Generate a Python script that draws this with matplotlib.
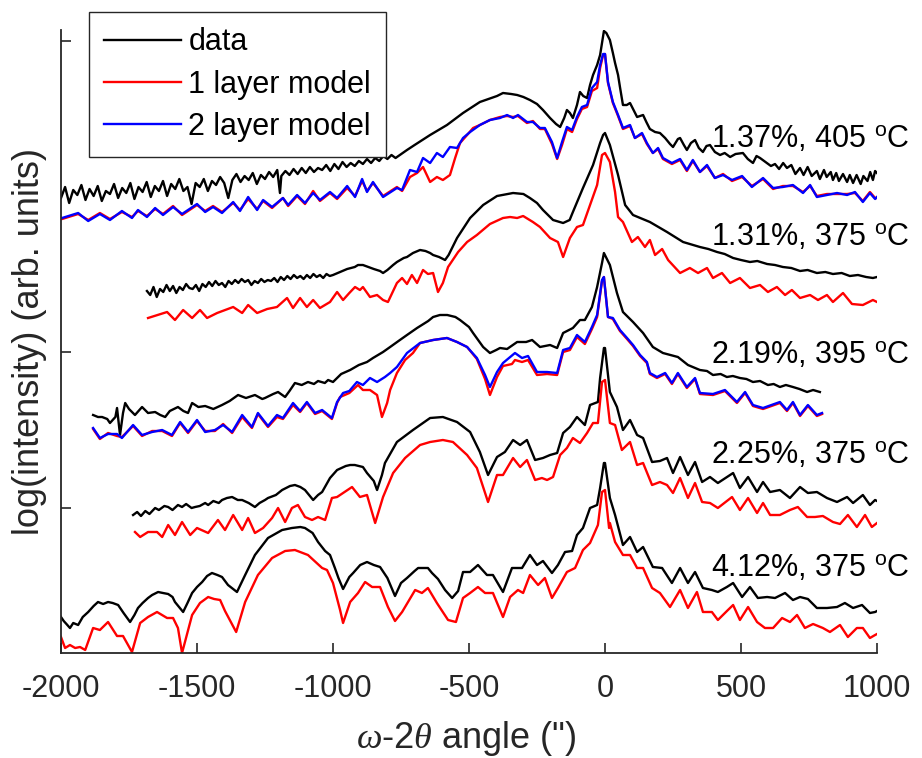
import numpy as np
import matplotlib
matplotlib.use("Agg")
import matplotlib.pyplot as plt

plt.rcParams['font.family'] = ['Liberation Sans', 'DejaVu Sans']
plt.rcParams['mathtext.fontset'] = 'custom'
plt.rcParams['mathtext.rm'] = 'Liberation Sans'
plt.rcParams['mathtext.it'] = 'Liberation Serif:italic'
plt.rcParams['axes.unicode_minus'] = False

# (angle in arcsec, log intensity in arb. units), offset per sample
s137_data = [(-2000, 455), (-1985, 466), (-1970, 450), (-1955, 463), (-1940, 458), (-1925, 468), (-1910, 453),
             (-1895, 464), (-1880, 457), (-1865, 467), (-1850, 452), (-1835, 462), (-1820, 459), (-1805, 469),
             (-1790, 455), (-1775, 465), (-1760, 460), (-1745, 470), (-1730, 454), (-1715, 466), (-1700, 461),
             (-1685, 471), (-1670, 456), (-1655, 467), (-1640, 462), (-1625, 472), (-1610, 457), (-1595, 469),
             (-1580, 464), (-1565, 474), (-1550, 462), (-1535, 466), (-1520, 449), (-1505, 470), (-1490, 466),
             (-1475, 474), (-1460, 462), (-1445, 472), (-1430, 468), (-1415, 476), (-1400, 470), (-1385, 455),
             (-1370, 473), (-1355, 479), (-1340, 471), (-1325, 477), (-1310, 473), (-1295, 480), (-1280, 469),
             (-1265, 478), (-1250, 474), (-1235, 481), (-1220, 476), (-1205, 483), (-1195, 460), (-1190, 477),
             (-1175, 482), (-1160, 478), (-1145, 484), (-1130, 479), (-1115, 485), (-1100, 480), (-1085, 486),
             (-1070, 481), (-1055, 485), (-1040, 483), (-1025, 488), (-1010, 482), (-995, 489), (-980, 484),
             (-965, 491), (-950, 486), (-935, 490), (-920, 487), (-905, 492), (-890, 489), (-875, 494),
             (-860, 490), (-845, 495), (-830, 492), (-815, 497), (-800, 494), (-785, 498), (-770, 495),
             (-728, 503), (-700, 508), (-643, 518), (-581, 528), (-522, 540), (-460, 551), (-397, 557),
             (-375, 560), (-345, 559), (-323, 558), (-300, 556), (-276, 553), (-250, 549), (-228, 543),
             (-202, 535), (-180, 529), (-165, 526), (-150, 535), (-140, 543), (-129, 540), (-118, 535),
             (-103, 548), (-92, 561), (-80, 557), (-66, 555), (-55, 568), (-44, 578), (-29, 588), (-18, 598),
             (-11, 610), (-4, 622), (5, 620), (18, 613), (29, 600), (37, 590), (48, 578), (55, 566), (66, 548),
             (80, 548), (92, 550), (105, 543), (118, 536), (129, 537), (140, 538), (152, 531), (165, 524),
             (184, 521), (202, 520), (221, 515), (239, 509), (250, 506), (268, 514), (276, 515), (290, 508),
             (301, 503), (316, 510), (331, 513), (345, 505), (360, 501), (373, 507), (386, 508), (404, 501),
             (423, 498), (440, 500), (460, 496), (480, 499), (507, 500), (525, 494), (544, 490), (557, 497),
             (570, 495), (590, 491), (610, 487), (625, 489), (640, 484), (655, 490), (669, 485), (685, 488),
             (700, 479), (717, 485), (730, 478), (745, 486), (760, 477), (779, 482), (790, 474), (805, 483),
             (815, 476), (830, 481), (838, 473), (850, 480), (860, 472), (875, 479), (890, 471), (900, 478),
             (912, 470), (925, 478), (940, 469), (950, 477), (965, 472), (975, 481), (985, 473), (993, 482),
             (1000, 480)]

s137_one = [(-2000, 434), (-1996, 434), (-1937, 439), (-1900, 433), (-1857, 440), (-1820, 434), (-1776, 441),
            (-1739, 436), (-1717, 442), (-1684, 437), (-1654, 444), (-1625, 439), (-1588, 447), (-1555, 438),
            (-1500, 448), (-1470, 442), (-1441, 447), (-1408, 441), (-1367, 450), (-1342, 443), (-1312, 454),
            (-1279, 444), (-1257, 452), (-1224, 445), (-1184, 455), (-1165, 447), (-1132, 457), (-1103, 449),
            (-1073, 462), (-1048, 452), (-1011, 460), (-985, 454), (-948, 465), (-919, 457), (-893, 472),
            (-875, 462), (-853, 470), (-816, 457), (-765, 466), (-746, 462), (-717, 476), (-691, 480),
            (-669, 486), (-643, 471), (-618, 476), (-596, 473), (-570, 478), (-551, 495), (-533, 510),
            (-507, 518), (-485, 525), (-460, 528), (-423, 533), (-386, 536), (-360, 537), (-338, 536),
            (-320, 537), (-287, 530), (-265, 532), (-239, 524), (-221, 524), (-195, 509), (-176, 494),
            (-158, 508), (-140, 524), (-121, 521), (-103, 534), (-85, 544), (-66, 546), (-48, 562), (-29, 565),
            (-18, 585), (-7, 598), (0, 599), (11, 570), (29, 550), (48, 537), (66, 524), (92, 527), (110, 515),
            (136, 519), (154, 509), (176, 500), (195, 504), (213, 494), (246, 489), (276, 493), (301, 482),
            (323, 492), (349, 481), (375, 487), (404, 475), (434, 479), (467, 472), (504, 476), (540, 467),
            (581, 474), (618, 464), (654, 467), (691, 467), (728, 461), (754, 467), (779, 457), (816, 459),
            (853, 459), (890, 459), (919, 460), (948, 452), (974, 461), (993, 455), (1000, 455)]

s137_two = [(-2000, 435), (-1996, 435), (-1937, 440), (-1900, 432), (-1857, 439), (-1820, 433), (-1776, 442),
            (-1739, 435), (-1717, 443), (-1684, 436), (-1654, 445), (-1625, 438), (-1588, 446), (-1555, 439),
            (-1500, 449), (-1470, 441), (-1441, 446), (-1408, 440), (-1367, 451), (-1342, 442), (-1312, 456),
            (-1279, 443), (-1257, 453), (-1224, 446), (-1184, 455), (-1165, 448), (-1132, 458), (-1103, 450),
            (-1073, 460), (-1048, 453), (-1011, 461), (-985, 455), (-948, 467), (-919, 456), (-893, 474),
            (-875, 461), (-853, 471), (-816, 456), (-765, 465), (-746, 463), (-717, 483), (-691, 481),
            (-669, 495), (-643, 490), (-618, 500), (-596, 496), (-570, 506), (-544, 505), (-522, 515),
            (-496, 521), (-460, 528), (-423, 533), (-386, 535), (-360, 538), (-338, 535), (-320, 538),
            (-287, 531), (-265, 531), (-239, 525), (-221, 525), (-195, 511), (-176, 495), (-158, 511),
            (-140, 526), (-121, 523), (-103, 536), (-85, 546), (-66, 548), (-48, 565), (-29, 571), (-18, 588),
            (-7, 599), (0, 599), (11, 571), (29, 551), (48, 538), (66, 525), (92, 528), (110, 515), (136, 520),
            (154, 510), (176, 500), (195, 505), (213, 495), (246, 490), (276, 494), (301, 483), (323, 493),
            (349, 481), (375, 488), (404, 475), (434, 478), (467, 473), (504, 477), (540, 466), (581, 475),
            (618, 465), (654, 466), (691, 468), (728, 460), (754, 468), (779, 456), (816, 458), (853, 460),
            (890, 458), (919, 461), (948, 451), (974, 460), (993, 454), (1000, 456)]

s131_data = [(-1684, 362), (-1672, 358), (-1660, 366), (-1648, 356), (-1636, 364), (-1624, 361), (-1612, 368),
             (-1600, 362), (-1588, 367), (-1576, 360), (-1564, 366), (-1552, 363), (-1540, 369), (-1528, 365),
             (-1516, 364), (-1504, 368), (-1492, 362), (-1480, 369), (-1468, 366), (-1456, 371), (-1444, 367),
             (-1432, 372), (-1420, 368), (-1408, 370), (-1396, 366), (-1384, 372), (-1372, 369), (-1360, 373),
             (-1348, 370), (-1336, 374), (-1324, 371), (-1312, 373), (-1300, 368), (-1288, 372), (-1276, 370),
             (-1264, 374), (-1252, 371), (-1240, 373), (-1228, 372), (-1216, 375), (-1204, 371), (-1192, 376),
             (-1180, 373), (-1168, 377), (-1156, 374), (-1144, 378), (-1132, 375), (-1120, 377), (-1108, 374),
             (-1096, 378), (-1084, 375), (-1072, 379), (-1060, 376), (-1048, 378), (-1036, 375), (-1024, 379),
             (-1012, 377), (-1000, 378), (-974, 381), (-948, 384), (-920, 386), (-908, 388), (-890, 388),
             (-870, 386), (-850, 384), (-827, 382), (-816, 380), (-800, 383), (-779, 388), (-765, 391),
             (-740, 395), (-728, 396), (-706, 400), (-680, 403), (-660, 402), (-643, 400), (-632, 398),
             (-610, 396), (-588, 393), (-575, 398), (-544, 415), (-496, 435), (-448, 448), (-397, 457),
             (-338, 460), (-300, 459), (-276, 455), (-250, 450), (-228, 443), (-191, 433), (-154, 430),
             (-130, 433), (-118, 441), (-81, 465), (-44, 488), (-18, 510), (-7, 518), (0, 520), (18, 508),
             (48, 478), (74, 448), (103, 438), (165, 431), (228, 421), (287, 411), (349, 406), (380, 404),
             (412, 401), (440, 399), (471, 395), (500, 393), (533, 391), (560, 392), (596, 389), (625, 388),
             (654, 386), (685, 385), (717, 382), (745, 383), (779, 380), (810, 381), (838, 379), (870, 380),
             (900, 377), (930, 378), (960, 376), (985, 375), (1000, 376)]

s131_one = [(-1680, 335), (-1610, 341), (-1581, 333), (-1551, 343), (-1518, 335), (-1489, 343), (-1463, 335),
            (-1426, 340), (-1367, 346), (-1334, 340), (-1312, 348), (-1279, 340), (-1242, 344), (-1206, 346),
            (-1169, 355), (-1147, 345), (-1121, 355), (-1096, 346), (-1073, 353), (-1048, 345), (-1011, 351),
            (-985, 361), (-963, 353), (-940, 360), (-919, 366), (-901, 363), (-890, 366), (-864, 356),
            (-838, 358), (-816, 353), (-798, 351), (-765, 370), (-746, 375), (-728, 369), (-710, 378),
            (-691, 370), (-669, 383), (-651, 379), (-632, 380), (-614, 361), (-596, 370), (-577, 386),
            (-540, 401), (-507, 411), (-471, 418), (-423, 429), (-375, 435), (-349, 436), (-323, 435),
            (-301, 437), (-265, 431), (-239, 426), (-202, 415), (-173, 411), (-154, 396), (-129, 415),
            (-103, 426), (-81, 428), (-55, 448), (-29, 468), (-11, 498), (0, 500), (18, 491), (37, 461),
            (48, 436), (66, 431), (99, 411), (121, 416), (147, 406), (165, 413), (184, 398), (210, 404),
            (232, 393), (276, 380), (312, 385), (342, 380), (375, 385), (397, 375), (430, 380), (460, 370),
            (496, 375), (533, 365), (570, 368), (599, 361), (632, 366), (662, 358), (687, 363), (717, 355),
            (754, 358), (783, 353), (816, 358), (838, 351), (875, 360), (908, 349), (948, 348), (985, 353),
            (1000, 351)]

s219_data = [(-1882, 238), (-1864, 236), (-1849, 236), (-1830, 234), (-1820, 230), (-1800, 236), (-1794, 245),
             (-1783, 218), (-1772, 240), (-1764, 250), (-1750, 244), (-1728, 238), (-1715, 242), (-1702, 246),
             (-1680, 240), (-1654, 241), (-1635, 238), (-1617, 236), (-1600, 242), (-1570, 246), (-1550, 242),
             (-1533, 240), (-1518, 250), (-1495, 246), (-1470, 247), (-1440, 244), (-1408, 248), (-1380, 252),
             (-1349, 258), (-1320, 255), (-1287, 258), (-1260, 254), (-1250, 255), (-1220, 259), (-1202, 261),
             (-1176, 256), (-1160, 262), (-1140, 270), (-1115, 268), (-1092, 271), (-1070, 269), (-1055, 272),
             (-1030, 270), (-1018, 273), (-1000, 271), (-970, 279), (-937, 283), (-905, 288), (-875, 291),
             (-853, 295), (-816, 301), (-790, 306), (-754, 313), (-728, 318), (-691, 325), (-650, 332),
             (-632, 336), (-607, 338), (-580, 338), (-550, 336), (-533, 333), (-500, 326), (-485, 320),
             (-448, 306), (-423, 300), (-400, 303), (-386, 305), (-360, 304), (-323, 311), (-290, 311),
             (-268, 313), (-239, 306), (-202, 308), (-176, 305), (-154, 320), (-118, 325), (-92, 333),
             (-74, 333), (-48, 346), (-29, 366), (-11, 390), (-4, 400), (18, 388), (44, 360), (66, 341),
             (103, 331), (140, 320), (176, 306), (213, 300), (268, 296), (305, 288), (349, 283), (375, 282),
             (397, 278), (425, 279), (448, 276), (470, 277), (496, 275), (520, 274), (544, 271), (570, 272),
             (599, 268), (620, 269), (643, 266), (665, 268), (691, 266), (715, 264), (743, 261), (765, 263),
             (790, 261)]

s219_one = [(-1882, 224), (-1857, 214), (-1827, 220), (-1794, 217), (-1776, 216), (-1735, 227), (-1702, 217),
            (-1665, 222), (-1628, 222), (-1592, 217), (-1562, 230), (-1533, 220), (-1500, 232), (-1470, 222),
            (-1434, 222), (-1404, 229), (-1371, 220), (-1334, 236), (-1298, 225), (-1276, 239), (-1239, 226),
            (-1206, 236), (-1184, 234), (-1147, 248), (-1121, 241), (-1096, 250), (-1066, 239), (-1040, 242),
            (-1004, 234), (-985, 250), (-974, 256), (-940, 260), (-908, 268), (-890, 263), (-864, 263),
            (-838, 258), (-820, 236), (-801, 250), (-790, 263), (-765, 280), (-735, 293), (-706, 300),
            (-680, 310), (-632, 313), (-581, 315), (-544, 311), (-507, 306), (-471, 294), (-441, 274),
            (-423, 258), (-397, 276), (-375, 287), (-342, 289), (-331, 293), (-305, 291), (-283, 293),
            (-250, 278), (-213, 279), (-176, 278), (-154, 301), (-129, 303), (-103, 316), (-74, 309),
            (-48, 324), (-29, 336), (-11, 372), (-4, 376), (11, 336), (29, 334), (55, 322), (81, 314),
            (103, 307), (129, 297), (154, 290), (165, 279), (191, 275), (221, 279), (246, 269), (268, 279),
            (301, 265), (331, 274), (349, 259), (397, 258), (441, 262), (485, 250), (515, 260), (544, 247),
            (581, 244), (643, 250), (669, 242), (691, 250), (717, 237), (746, 247), (779, 237), (798, 239)]

s219_two = [(-1882, 225), (-1857, 215), (-1827, 219), (-1794, 219), (-1776, 215), (-1735, 228), (-1702, 218),
            (-1665, 221), (-1628, 223), (-1592, 218), (-1562, 231), (-1533, 221), (-1500, 233), (-1470, 221),
            (-1434, 223), (-1404, 228), (-1371, 221), (-1334, 238), (-1298, 226), (-1276, 240), (-1239, 227),
            (-1206, 238), (-1184, 235), (-1147, 250), (-1121, 242), (-1096, 251), (-1066, 240), (-1040, 243),
            (-1004, 235), (-985, 251), (-963, 260), (-940, 262), (-912, 271), (-890, 268), (-864, 275),
            (-838, 271), (-809, 276), (-790, 280), (-765, 286), (-728, 300), (-680, 310), (-632, 313),
            (-581, 315), (-544, 311), (-507, 306), (-471, 295), (-441, 278), (-423, 266), (-397, 281),
            (-375, 290), (-331, 300), (-305, 295), (-283, 297), (-250, 281), (-213, 281), (-176, 280),
            (-154, 303), (-129, 305), (-103, 318), (-74, 311), (-48, 326), (-29, 338), (-11, 373), (-4, 376),
            (11, 336), (29, 335), (55, 323), (81, 315), (103, 308), (129, 298), (154, 291), (165, 280),
            (191, 276), (221, 280), (246, 270), (268, 280), (301, 266), (331, 275), (349, 260), (397, 259),
            (441, 263), (485, 251), (515, 261), (544, 248), (581, 245), (643, 251), (669, 243), (691, 251),
            (717, 238), (746, 248), (779, 238), (798, 240)]

s225_data = [(-1735, 138), (-1720, 141), (-1706, 137), (-1690, 142), (-1675, 139), (-1654, 145), (-1640, 143),
             (-1620, 147), (-1606, 146), (-1590, 143), (-1570, 148), (-1555, 146), (-1540, 149), (-1520, 145),
             (-1507, 146), (-1490, 147), (-1470, 150), (-1459, 148), (-1440, 152), (-1420, 150), (-1408, 153),
             (-1390, 155), (-1371, 156), (-1350, 153), (-1334, 153), (-1310, 150), (-1287, 146), (-1270, 150),
             (-1250, 153), (-1239, 155), (-1210, 158), (-1187, 163), (-1158, 167), (-1140, 168), (-1120, 166),
             (-1103, 163), (-1085, 157), (-1073, 153), (-1055, 158), (-1040, 161), (-1011, 175), (-985, 183),
             (-953, 187), (-937, 188), (-920, 188), (-890, 186), (-875, 180), (-850, 172), (-838, 163),
             (-820, 178), (-809, 190), (-765, 211), (-706, 223), (-643, 235), (-596, 236), (-544, 231),
             (-496, 221), (-460, 201), (-430, 178), (-397, 196), (-368, 201), (-338, 213), (-312, 208),
             (-287, 213), (-257, 193), (-228, 195), (-202, 198), (-176, 200), (-154, 220), (-129, 226),
             (-103, 236), (-74, 228), (-55, 248), (-26, 251), (-18, 275), (-4, 305), (0, 305), (18, 261),
             (44, 246), (66, 223), (92, 233), (118, 218), (140, 215), (173, 191), (202, 192), (228, 195),
             (250, 180), (276, 196), (305, 178), (331, 191), (357, 171), (386, 176), (415, 170), (471, 180),
             (496, 165), (526, 176), (559, 161), (581, 171), (607, 161), (643, 163), (680, 155), (717, 166),
             (746, 160), (779, 161), (816, 155), (853, 151), (890, 156), (912, 150), (948, 158), (974, 148),
             (993, 153), (1000, 152)]

s225_one = [(-1728, 121), (-1709, 116), (-1680, 121), (-1647, 121), (-1628, 116), (-1606, 128), (-1581, 118),
            (-1555, 131), (-1525, 118), (-1500, 125), (-1459, 120), (-1423, 133), (-1397, 123), (-1367, 138),
            (-1334, 123), (-1312, 135), (-1287, 120), (-1257, 125), (-1224, 135), (-1202, 145), (-1176, 131),
            (-1151, 145), (-1129, 148), (-1103, 136), (-1077, 133), (-1055, 136), (-1029, 133), (-1004, 155),
            (-985, 156), (-963, 160), (-930, 166), (-901, 156), (-875, 158), (-845, 130), (-816, 156),
            (-779, 180), (-735, 195), (-680, 208), (-643, 211), (-596, 213), (-559, 211), (-507, 198),
            (-471, 185), (-430, 151), (-397, 178), (-375, 178), (-338, 195), (-312, 186), (-287, 193),
            (-257, 173), (-232, 175), (-213, 173), (-191, 176), (-165, 198), (-140, 205), (-118, 215),
            (-92, 210), (-66, 220), (-44, 230), (-26, 230), (-11, 271), (0, 273), (18, 230), (37, 228),
            (62, 203), (92, 211), (118, 188), (140, 190), (173, 168), (202, 171), (228, 168), (250, 160),
            (276, 175), (305, 155), (331, 170), (357, 151), (386, 150), (415, 145), (467, 156), (496, 143),
            (526, 155), (559, 140), (581, 150), (607, 138), (643, 138), (680, 143), (709, 146), (743, 136),
            (772, 136), (801, 137), (838, 131), (864, 129), (893, 138), (926, 126), (956, 138), (981, 126),
            (1000, 130)]

s412_data = [(-2000, 36), (-1990, 32), (-1980, 29), (-1967, 25), (-1955, 30), (-1937, 28), (-1920, 36),
             (-1900, 41), (-1880, 47), (-1864, 51), (-1845, 49), (-1827, 51), (-1810, 50), (-1790, 48),
             (-1770, 40), (-1746, 31), (-1730, 38), (-1717, 45), (-1700, 50), (-1680, 55), (-1665, 58),
             (-1643, 61), (-1625, 60), (-1606, 59), (-1590, 56), (-1581, 51), (-1551, 41), (-1535, 50),
             (-1518, 60), (-1500, 66), (-1481, 71), (-1463, 77), (-1445, 80), (-1425, 78), (-1408, 76),
             (-1386, 68), (-1353, 61), (-1323, 78), (-1287, 98), (-1239, 115), (-1187, 123), (-1151, 125),
             (-1120, 126), (-1103, 125), (-1075, 120), (-1055, 111), (-1029, 102), (-1011, 98), (-993, 85),
             (-980, 75), (-963, 64), (-940, 76), (-926, 80), (-900, 88), (-875, 91), (-850, 88), (-827, 86),
             (-800, 75), (-772, 57), (-750, 70), (-728, 75), (-700, 82), (-687, 85), (-651, 85), (-636, 80),
             (-614, 74), (-588, 63), (-562, 55), (-540, 62), (-522, 81), (-496, 81), (-467, 88), (-434, 78),
             (-412, 78), (-386, 66), (-375, 61), (-342, 85), (-305, 85), (-276, 98), (-250, 88), (-228, 92),
             (-195, 80), (-173, 88), (-147, 101), (-121, 102), (-103, 118), (-81, 125), (-55, 145), (-29, 148),
             (-18, 165), (-4, 190), (0, 190), (18, 155), (37, 138), (66, 108), (92, 116), (118, 101),
             (140, 106), (176, 86), (210, 85), (246, 70), (276, 85), (305, 70), (331, 81), (360, 65),
             (393, 63), (415, 61), (448, 66), (471, 70), (504, 56), (533, 66), (562, 55), (596, 56), (625, 55),
             (662, 60), (691, 53), (717, 56), (746, 54), (779, 45), (816, 45), (853, 46), (882, 50), (912, 45),
             (945, 48), (974, 40), (993, 41), (1000, 42)]

s412_one = [(-2000, 16), (-1985, 5), (-1967, 8), (-1948, 5), (-1930, 6), (-1911, 3), (-1882, 25), (-1857, 23),
            (-1827, 31), (-1794, 17), (-1772, 17), (-1739, 1), (-1709, 30), (-1680, 36), (-1647, 41),
            (-1610, 35), (-1588, 35), (-1570, 25), (-1555, 0), (-1518, 38), (-1489, 50), (-1459, 56),
            (-1437, 54), (-1415, 53), (-1397, 42), (-1356, 21), (-1323, 51), (-1276, 78), (-1224, 95),
            (-1176, 102), (-1140, 103), (-1092, 98), (-1040, 85), (-1022, 83), (-1000, 70), (-974, 43),
            (-963, 30), (-937, 51), (-908, 60), (-882, 71), (-856, 66), (-827, 66), (-798, 46), (-772, 32),
            (-746, 41), (-698, 63), (-673, 60), (-651, 65), (-618, 50), (-577, 33), (-548, 31), (-522, 55),
            (-496, 60), (-467, 66), (-441, 60), (-412, 60), (-375, 36), (-349, 56), (-320, 63), (-301, 60),
            (-276, 78), (-246, 68), (-221, 75), (-195, 55), (-173, 65), (-140, 81), (-110, 85), (-81, 103),
            (-55, 110), (-26, 128), (-11, 161), (0, 163), (15, 125), (18, 130), (37, 111), (66, 98), (92, 98),
            (118, 85), (140, 85), (173, 65), (202, 60), (239, 46), (276, 63), (305, 45), (338, 61), (360, 41),
            (393, 41), (415, 33), (452, 43), (471, 48), (496, 33), (526, 46), (559, 31), (588, 25), (618, 25),
            (651, 35), (680, 31), (706, 38), (735, 25), (765, 29), (801, 25), (827, 21), (864, 28), (893, 16),
            (926, 25), (948, 25), (974, 15), (993, 18), (1000, 19)]

labels = ['1.37%, 405 $^{\\rm o}$C', '1.31%, 375 $^{\\rm o}$C', '2.19%, 395 $^{\\rm o}$C',
          '2.25%, 375 $^{\\rm o}$C', '4.12%, 375 $^{\\rm o}$C']
label_y = [513, 415, 297, 197, 84]
label_x = 390

samples = [
    (s137_data, s137_one, s137_two),
    (s131_data, s131_one, None),
    (s219_data, s219_one, s219_two),
    (s225_data, s225_one, None),
    (s412_data, s412_one, None),
]

fs = 22
fs_lab = 26

fig = plt.figure(figsize=(9.22, 7.58), dpi=100)
ax = fig.add_axes([61 / 922, 1 - 653 / 758, 816 / 922, 623 / 758])

lw = 1.7
first = True
for dat, one, two in samples:
    d = np.array(dat).T
    ax.plot(d[0], d[1], color='black', lw=lw, label='data' if first else None)
    o = np.array(one).T
    ax.plot(o[0], o[1], color='red', lw=lw, label='1 layer model' if first else None)
    if two is not None:
        t = np.array(two).T
        ax.plot(t[0], t[1], color='blue', lw=lw, label='2 layer model' if first else None)
    first = False

for txt, yy in zip(labels, label_y):
    ax.text(label_x, yy, txt, fontsize=fs, ha='left', va='center', clip_on=False)

ax.set_xlim(-2000, 1000)
ax.set_ylim(0, 623)
ax.set_xticks([-2000, -1500, -1000, -500, 0, 500, 1000])
ax.set_yticks([145, 301, 612])
ax.set_yticklabels([])

for side in ['top', 'right']:
    ax.spines[side].set_visible(False)
for side in ['left', 'bottom']:
    ax.spines[side].set_color('#262626')
    ax.spines[side].set_linewidth(1.3)
ax.tick_params(direction='in', length=7, width=1.2, colors='#262626', labelsize=fs, pad=15)

ax.set_xlabel(r'$\omega$-2$\theta$ angle (")', fontsize=fs_lab, color='#262626')
ax.xaxis.set_label_coords((466 - 61) / 816, -0.138)
ax.xaxis.label.set_va('center')
ax.set_ylabel('log(intensity) (arb. units)', fontsize=fs_lab, color='#262626')
ax.yaxis.set_label_coords(-0.017, 0.5)

leg = ax.legend(loc='upper left', bbox_to_anchor=(89 / 922, 1 - 12 / 758), bbox_transform=fig.transFigure,
                borderaxespad=0, fontsize=fs, handlelength=2.5, handletextpad=0.25, labelspacing=0.4,
                borderpad=0.5, fancybox=False, framealpha=1)
leg.get_frame().set_edgecolor('#262626')
leg.get_frame().set_linewidth(1.0)

fig.savefig('out.png', dpi=100)
